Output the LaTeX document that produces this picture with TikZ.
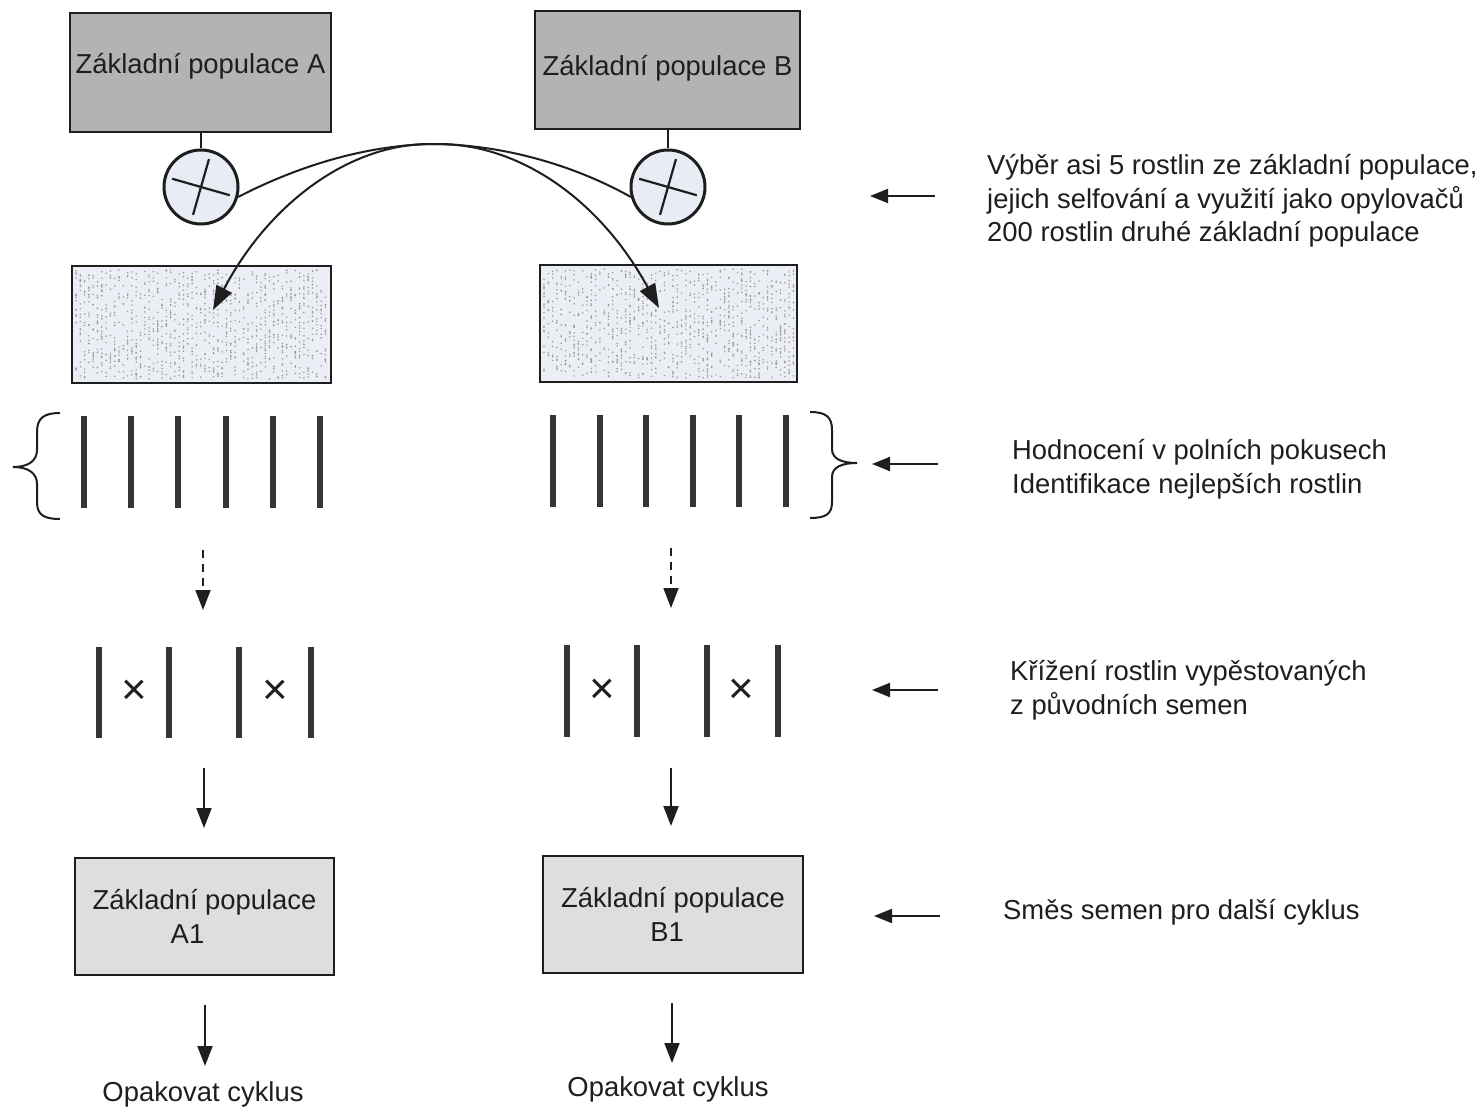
\documentclass[tikz,border=0pt]{standalone}
\usepackage{fontspec}
\setmainfont{Liberation Sans}
\usetikzlibrary{arrows.meta}
\definecolor{ink}{HTML}{1E1E1E}
\definecolor{topgray}{HTML}{B3B3B3}
\definecolor{lowgray}{HTML}{DEDEDE}
\definecolor{seedfill}{HTML}{ECEEF5}
\definecolor{circfill}{HTML}{E8ECF4}
\begin{document}
\begin{tikzpicture}[x=1pt,y=-1pt,
  every node/.style={font=\fontsize{27.4}{33.5}\selectfont, text=ink},
  popbox/.style={draw=ink, line width=2pt, inner sep=0pt, align=center},
  seedbox/.style={draw=ink, line width=2.6pt, fill=seedfill, inner sep=0pt},
  selfnode/.style={circle, draw=ink, line width=3pt, fill=circfill, minimum size=74pt, inner sep=0pt},
  plant/.style={draw=ink!90, line width=5.5pt},
  conn/.style={draw=ink, line width=2pt},
  bigtip/.style={-{Triangle[length=24pt,width=17pt]}},
  downtip/.style={-{Triangle[length=20pt,width=15pt]}},
  sidetip/.style={-{Triangle[length=18pt,width=14pt]}},
  note/.style={anchor=base west, inner sep=0pt, align=left},
  cross/.style={font=\fontsize{44}{44}\selectfont, inner sep=0pt},
]
\useasboundingbox[fill=white] (0,0) rectangle (1483,1107);

% base populations
\node[popbox, fill=topgray, minimum width=261pt, minimum height=119pt,
      text height=20pt, text depth=18pt] (popA) at (200.5,72.5) {Základní populace A};
\node[popbox, fill=topgray, minimum width=265pt, minimum height=118pt,
      text height=20pt, text depth=8pt] (popB) at (667.5,70) {Základní populace B};

% selfing symbols
\node[selfnode] (selfA) at (201,187) {};
\node[selfnode] (selfB) at (668,187) {};
\foreach \s in {selfA,selfB}{
  \draw[ink, line width=2.2pt] ([shift={(16:30)}]\s.center) -- ([shift={(196:30)}]\s.center);
  \draw[ink, line width=2.2pt] ([shift={(-74:29)}]\s.center) -- ([shift={(106:29)}]\s.center);
}
\draw[conn] (popA.south -| selfA) -- (selfA.north);
\draw[conn] (popB.south -| selfB) -- (selfB.north);

% seed lots
\node[seedbox, minimum width=259pt, minimum height=117pt] (seedA) at (201.5,324.5) {};
\node[seedbox, minimum width=257pt, minimum height=117pt] (seedB) at (668.5,323.5) {};
\pgfmathsetseed{4711}
\foreach \bx/\by in {76/270, 544/269}{
  \foreach \i in {1,...,1100}{
    \pgfmathsetmacro\px{\bx+4.3*int(rnd*59)}
    \pgfmathsetmacro\py{\by+109*rnd}
    \fill[gray!80] (\px,\py) circle (0.85pt);
  }
}

% pollination crossing
\coordinate (tipB) at (659,308);
\coordinate (tipA) at (213,310);
\draw[conn, bigtip] (selfA.-15) .. controls (300,165) and (370,144) .. (438,144)
  .. controls (520,144) and (600,200) .. (tipB);
\draw[conn, bigtip] (selfB.195) .. controls (570,163) and (498,144) .. (430,144)
  .. controls (348,144) and (268,205) .. (tipA);

% field trial rows
\foreach \x in {84,131,178,226,273,320}{ \draw[plant] (\x,416) -- (\x,508); }
\foreach \x in {553,600,646,693,739,786}{ \draw[plant] (\x,415) -- (\x,507); }
\draw[conn] (60,413) .. controls (44,413) and (37,418) .. (37,432) -- (37,450)
  .. controls (37,461) and (28,467) .. (13,467)
  .. controls (28,467) and (37,473) .. (37,484) -- (37,502)
  .. controls (37,515) and (44,519) .. (60,519);
\draw[conn] (810,412) .. controls (826,412) and (832,417) .. (832,430) -- (832,449)
  .. controls (832,459) and (842,463) .. (857,463)
  .. controls (842,463) and (832,467) .. (832,477) -- (832,502)
  .. controls (832,514) and (826,518) .. (810,518);

% selection
\coordinate (dA0) at (203,550); \coordinate (dA1) at (203,610);
\coordinate (dB0) at (671,548); \coordinate (dB1) at (671,608);
\draw[conn, line width=1.8pt, dash pattern=on 8pt off 6pt, downtip] (dA0) -- (dA1);
\draw[conn, line width=1.8pt, dash pattern=on 8pt off 6pt, downtip] (dB0) -- (dB1);

% crosses between selected plants
\foreach \x in {99,169,239,311}{ \draw[plant] (\x,647) -- (\x,738); }
\foreach \x in {567,637,707,778}{ \draw[plant] (\x,645) -- (\x,737); }
\node[cross] (xA1) at (134,692) {×};
\node[cross] (xA2) at (275,692) {×};
\node[cross] (xB1) at (602,691) {×};
\node[cross] (xB2) at (741,691) {×};

\coordinate (aA0) at (204,768); \coordinate (aA1) at (204,828);
\coordinate (aB0) at (671,768); \coordinate (aB1) at (671,826);
\draw[conn, downtip] (aA0) -- (aA1);
\draw[conn, downtip] (aB0) -- (aB1);

% new populations
\node[popbox, fill=lowgray, minimum width=259pt, minimum height=117pt] (popA1) at (204.5,916.5)
  {Základní populace\\\hspace*{-34pt}A1};
\node[popbox, fill=lowgray, minimum width=260pt, minimum height=117pt] (popB1) at (673,914.5)
  {Základní populace\\\hspace*{-12pt}B1};

\coordinate (rA0) at (205,1005); \coordinate (rA1) at (205,1066);
\coordinate (rB0) at (672,1003); \coordinate (rB1) at (672,1063);
\draw[conn, downtip] (rA0) -- (rA1);
\draw[conn, downtip] (rB0) -- (rB1);
\node[anchor=base, inner sep=0pt] (cycA) at (203,1101) {Opakovat cyklus};
\node[anchor=base, inner sep=0pt] (cycB) at (668,1096) {Opakovat cyklus};

% explanations (base anchor sits on the last line)
\node[note] (n1) at (987,242) {Výběr asi 5 rostlin ze základní populace,\\jejich selfování a využití jako opylovačů\\200 rostlin druhé základní populace};
\node[note] (n2) at (1012,493) {Hodnocení v polních pokusech\\Identifikace nejlepších rostlin};
\node[note] (n3) at (1010,714) {Křížení rostlin vypěstovaných\\z původních semen};
\node[note] (n4) at (1003,919) {Směs semen pro další cyklus};

\coordinate (s1) at (935,196); \coordinate (e1) at (870,196);
\coordinate (s2) at (938,464); \coordinate (e2) at (872,464);
\coordinate (s3) at (938,690); \coordinate (e3) at (872,690);
\coordinate (s4) at (940,916); \coordinate (e4) at (874,916);
\foreach \k in {1,2,3,4}{ \draw[conn, sidetip] (s\k) -- (e\k); }
\end{tikzpicture}
\end{document}
